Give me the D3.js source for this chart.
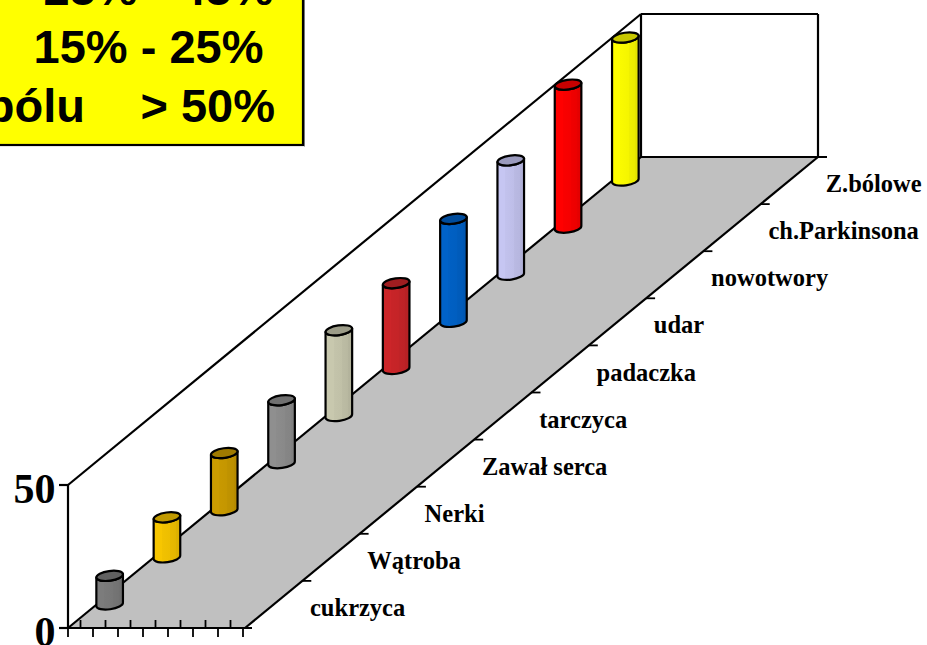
<!DOCTYPE html>
<html>
<head>
<meta charset="utf-8">
<script src="https://cdnjs.cloudflare.com/ajax/libs/d3/7.8.5/d3.min.js"></script>
<style>
html,body{margin:0;padding:0;background:#fff;overflow:hidden}
svg{display:block}
</style>
</head>
<body>
<svg id="chart" width="927" height="645"></svg>
<script>
// Chart content
const categories = ["cukrzyca","Wątroba","Nerki","Zawał serca","tarczyca","padaczka","udar","nowotwory","ch.Parkinsona","Z.bólowe"];
const values = [10,14,20,22,30,30,36,40,50,50];
const barColors = ["#7c7c7c","#f7c600","#cc9c00","#8f8f8f","#c8c8ae","#cc2529","#0062c8","#c6c6f2","#ff0000","#ffff00"];
const valueTicks = [0,50];
const legendLines = ["25% - 45%","15% - 25%","> 50%"];
const legendStub = "bólu";

const svg = d3.select("#chart");

// Oblique projection of the floor: depth runs up and to the right
const origin = {x:68, y:628};
const depthRun = {x:573, y:471};
const floorWidth = 177;
const barOffset = 13;
const barRx = 13.3, barRy = 4.8, barTilt = -8;
const frameWidth = 2.2;

const depth = d3.scaleBand().domain(categories).range([0,1]);
const height = d3.scaleLinear().domain([0,50]).range([0,143]);

const px = d => origin.x + d*depthRun.x;
const py = d => origin.y - d*depthRun.y;

const wallTop = height(50);
const floorPts = [[px(0),py(0)],[px(0)+floorWidth,py(0)],[px(1)+floorWidth,py(1)],[px(1),py(1)]];

svg.append("polygon").attr("points",floorPts.join(" ")).attr("fill","#c0c0c0");

// Wall and floor outlines
const frame = [
  [[px(0),py(0)],[px(0),py(0)-wallTop]],
  [[px(0),py(0)-wallTop],[px(1),py(1)-wallTop]],
  [[px(1),py(1)-wallTop],[px(1)+floorWidth,py(1)-wallTop]],
  [[px(1)+floorWidth,py(1)-wallTop],[px(1)+floorWidth,py(1)]],
  [[px(1),py(1)-wallTop],[px(1),py(1)]],
  [[px(0),py(0)],[px(1),py(1)]],
  [[px(1),py(1)],[px(1)+floorWidth+9,py(1)]],
  [[px(0)+floorWidth,py(0)],[px(1)+floorWidth,py(1)]],
  [[px(0)-9,py(0)],[px(0)+floorWidth+7,py(0)]]
];
svg.append("g").selectAll("line").data(frame).join("line")
  .attr("x1",d=>d[0][0]).attr("y1",d=>d[0][1])
  .attr("x2",d=>d[1][0]).attr("y2",d=>d[1][1])
  .attr("stroke","#000").attr("stroke-width",frameWidth);

// Value axis ticks and labels
svg.append("g").selectAll("line").data(valueTicks).join("line")
  .attr("x1",px(0)-9).attr("x2",px(0))
  .attr("y1",d=>py(0)-height(d)).attr("y2",d=>py(0)-height(d))
  .attr("stroke","#000").attr("stroke-width",frameWidth);
svg.append("g").selectAll("text").data(valueTicks).join("text")
  .attr("x",55.5).attr("y",d=>py(0)-height(d)+18)
  .attr("text-anchor","end")
  .attr("font-family","'Liberation Serif'").attr("font-weight","bold").attr("font-size",42)
  .text(d=>d);

// Series axis: alternating ticks along the front edge of the floor
const seriesTicks = d3.range(15);
const seriesScale = d3.scaleLinear().domain([0,14]).range([px(0),px(0)+175]);
svg.append("g").selectAll("line").data(seriesTicks).join("line")
  .attr("x1",d=>seriesScale(d)).attr("x2",d=>seriesScale(d))
  .attr("y1",d=>d%2?py(0)-8:py(0))
  .attr("y2",d=>d%2?py(0):py(0)+9)
  .attr("stroke","#000").attr("stroke-width",1.8);

// Depth axis ticks and category labels
svg.append("g").selectAll("line").data(categories.slice(1)).join("line")
  .attr("x1",d=>px(depth(d))+floorWidth).attr("x2",d=>px(depth(d))+floorWidth+9)
  .attr("y1",d=>py(depth(d))).attr("y2",d=>py(depth(d)))
  .attr("stroke","#000").attr("stroke-width",1.8);
svg.append("g").selectAll("text").data(categories).join("text")
  .attr("x",d=>px(depth(d))+242)
  .attr("y",d=>py(depth(d)))
  .attr("dy",-12)
  .attr("font-family","'Liberation Serif'").attr("font-weight","bold").attr("font-size",24.5)
  .text(d=>d);

// Cylindrical bars with a stepped horizontal shade
const defs = svg.append("defs");
categories.forEach((c,i)=>{
  const base = d3.color(barColors[i]);
  const g = defs.append("linearGradient").attr("id","shade"+i);
  [[0,1],[.3,1],[.3,.98],[.62,.96],[.62,.94],[.85,.92],[.85,.9],[1,.88]].forEach(([o,k])=>{
    const col = d3.rgb(base.r*k,base.g*k,base.b*k);
    g.append("stop").attr("offset",o).attr("stop-color",col);
  });
});

const bars = svg.append("g").selectAll("g").data(categories).join("g");
bars.each(function(c,i){
  const d = depth(c)+depth.bandwidth()/2;
  const cx = px(d)+barOffset;
  const by = py(d);
  const ty = by-height(values[i]);
  const lift = barRx*Math.sin(-barTilt*Math.PI/180);
  const arc = `A${barRx} ${barRy} ${barTilt}`;
  const g = d3.select(this);
  g.append("path")
    .attr("d",`M${cx-barRx} ${ty+lift}L${cx-barRx} ${by+lift}${arc} 0 0 ${cx+barRx} ${by-lift}L${cx+barRx} ${ty-lift}${arc} 0 1 ${cx-barRx} ${ty+lift}Z`)
    .attr("fill",`url(#shade${i})`)
    .attr("stroke","#000").attr("stroke-width",2.2).attr("stroke-linejoin","round");
  const base = d3.color(barColors[i]);
  g.append("path")
    .attr("d",`M${cx-barRx} ${ty+lift}${arc} 0 0 ${cx+barRx} ${ty-lift}${arc} 0 0 ${cx-barRx} ${ty+lift}Z`)
    .attr("fill",d3.rgb(base.r*.78,base.g*.78,base.b*.78))
    .attr("stroke","#000").attr("stroke-width",2.2);
});

// Legend panel, running off the top-left corner of the page
const legend = svg.append("g");
legend.append("rect").attr("x",-10).attr("y",-10).attr("width",313).attr("height",155)
  .attr("fill","#ffff00").attr("stroke","#000").attr("stroke-width",2.2);
legend.append("line").attr("x1",304.5).attr("x2",304.5).attr("y1",-10).attr("y2",146.5).attr("stroke","#777").attr("stroke-width",1);
const legendText = legend.append("g")
  .attr("font-family","'Liberation Sans'").attr("font-weight","bold").attr("font-size",47);
legendText.selectAll("text").data(legendLines).join("text")
  .attr("x",(d,i)=>[158.5,148.5,275][i]).attr("y",(d,i)=>[5,63,122][i])
  .attr("text-anchor",(d,i)=>i==2?"end":"middle")
  .text(d=>d);
legendText.append("text").attr("x",85).attr("y",122).attr("text-anchor","end").text(legendStub);
</script>
</body>
</html>
